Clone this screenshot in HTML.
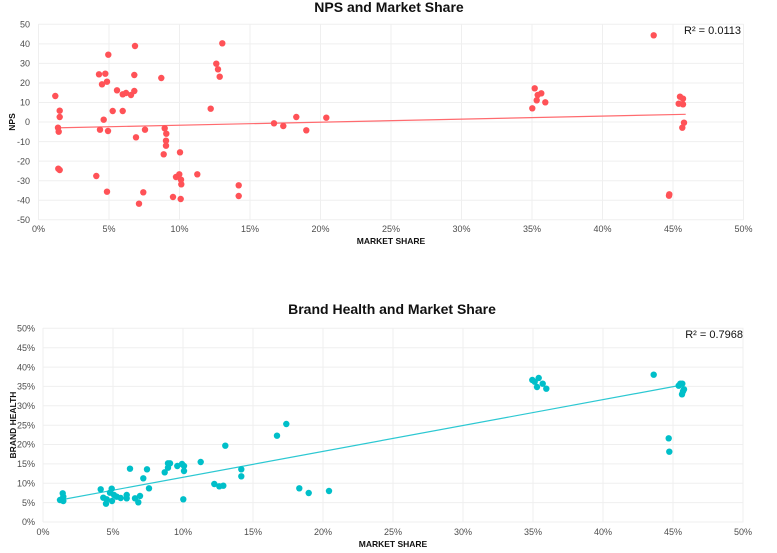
<!DOCTYPE html>
<html><head><meta charset="utf-8"><style>
html,body{margin:0;padding:0;background:#fff;}
svg{display:block;font-family:"Liberation Sans",Arial,sans-serif;}
.g{stroke:#efefef;stroke-width:1;}
.t{font-size:9px;fill:#4d4d4d;}
.ax{font-size:8.5px;font-weight:bold;fill:#111;}
.ti{font-size:14px;font-weight:bold;fill:#111;}
.r{fill:#ff5257;}
.c{fill:#00bfc9;}
</style></head><body>
<svg width="777" height="553" viewBox="0 0 777 553">
<!-- TOP CHART -->
<g>
<line class="g" x1="38.5" x2="743.5" y1="24.3" y2="24.3"/><line class="g" x1="38.5" x2="743.5" y1="43.9" y2="43.9"/><line class="g" x1="38.5" x2="743.5" y1="63.4" y2="63.4"/><line class="g" x1="38.5" x2="743.5" y1="83" y2="83"/><line class="g" x1="38.5" x2="743.5" y1="102.5" y2="102.5"/><line class="g" x1="38.5" x2="743.5" y1="122" y2="122"/><line class="g" x1="38.5" x2="743.5" y1="141.6" y2="141.6"/><line class="g" x1="38.5" x2="743.5" y1="161.1" y2="161.1"/><line class="g" x1="38.5" x2="743.5" y1="180.7" y2="180.7"/><line class="g" x1="38.5" x2="743.5" y1="200.2" y2="200.2"/><line class="g" x1="38.5" x2="743.5" y1="219.7" y2="219.7"/>
<line class="g" y1="24" y2="220" x1="38.5" x2="38.5"/><line class="g" y1="24" y2="220" x1="109" x2="109"/><line class="g" y1="24" y2="220" x1="179.5" x2="179.5"/><line class="g" y1="24" y2="220" x1="250" x2="250"/><line class="g" y1="24" y2="220" x1="320.5" x2="320.5"/><line class="g" y1="24" y2="220" x1="391" x2="391"/><line class="g" y1="24" y2="220" x1="461.5" x2="461.5"/><line class="g" y1="24" y2="220" x1="532" x2="532"/><line class="g" y1="24" y2="220" x1="602.5" x2="602.5"/><line class="g" y1="24" y2="220" x1="673" x2="673"/><line class="g" y1="24" y2="220" x1="743.5" x2="743.5"/>
<g class="t" text-anchor="end">
<text x="30" y="27.5">50</text><text x="30" y="47">40</text><text x="30" y="66.5">30</text><text x="30" y="86">20</text><text x="30" y="105.5">10</text><text x="30" y="125">0</text><text x="30" y="145">-10</text><text x="30" y="164.5">-20</text><text x="30" y="184">-30</text><text x="30" y="203.5">-40</text><text x="30" y="223">-50</text>
</g>
<g class="t" text-anchor="middle">
<text x="38.5" y="232">0%</text><text x="109" y="232">5%</text><text x="179.5" y="232">10%</text><text x="250" y="232">15%</text><text x="320.5" y="232">20%</text><text x="391" y="232">25%</text><text x="461.5" y="232">30%</text><text x="532" y="232">35%</text><text x="602.5" y="232">40%</text><text x="673" y="232">45%</text><text x="743.5" y="232">50%</text>
</g>
<text class="ax" x="391" y="244" text-anchor="middle">MARKET SHARE</text>
<text class="ax" transform="translate(15,122) rotate(-90)" text-anchor="middle">NPS</text>
<text class="ti" x="389" y="12" text-anchor="middle">NPS and Market Share</text>
<text x="741" y="34" text-anchor="end" font-size="11" fill="#111">R² = 0.0113</text>
<line x1="55" y1="127.9" x2="685.7" y2="114.3" stroke="#ff6b6f" stroke-width="1.2"/>
<g class="r">
<circle cx="55.3" cy="96" r="3.2"/><circle cx="59.7" cy="110.7" r="3.2"/><circle cx="59.7" cy="117" r="3.2"/><circle cx="58" cy="127.7" r="3.2"/><circle cx="58.7" cy="131.7" r="3.2"/><circle cx="58.3" cy="168.7" r="3.2"/><circle cx="59.7" cy="170" r="3.2"/><circle cx="96.3" cy="176" r="3.2"/><circle cx="99" cy="74.3" r="3.2"/><circle cx="100" cy="129.7" r="3.2"/><circle cx="102" cy="84.3" r="3.2"/><circle cx="103.7" cy="119.7" r="3.2"/><circle cx="105.3" cy="73.7" r="3.2"/><circle cx="107" cy="81.7" r="3.2"/><circle cx="108.3" cy="54.7" r="3.2"/><circle cx="108" cy="131" r="3.2"/><circle cx="107" cy="191.7" r="3.2"/><circle cx="112.7" cy="111" r="3.2"/><circle cx="117" cy="90.3" r="3.2"/><circle cx="122.7" cy="94.3" r="3.2"/><circle cx="122.7" cy="111" r="3.2"/><circle cx="126" cy="93" r="3.2"/><circle cx="131" cy="95" r="3.2"/><circle cx="134.3" cy="91" r="3.2"/><circle cx="135" cy="46" r="3.2"/><circle cx="134.3" cy="75" r="3.2"/><circle cx="136" cy="137.3" r="3.2"/><circle cx="139" cy="203.7" r="3.2"/><circle cx="143.3" cy="192.3" r="3.2"/><circle cx="145" cy="129.7" r="3.2"/><circle cx="161.3" cy="78" r="3.2"/><circle cx="163.7" cy="154.3" r="3.2"/><circle cx="164.7" cy="128.3" r="3.2"/><circle cx="166.3" cy="133.7" r="3.2"/><circle cx="166" cy="140.7" r="3.2"/><circle cx="166" cy="145.7" r="3.2"/><circle cx="173" cy="197" r="3.2"/><circle cx="176" cy="177" r="3.2"/><circle cx="179.3" cy="174.3" r="3.2"/><circle cx="180" cy="152.3" r="3.2"/><circle cx="181" cy="179.7" r="3.2"/><circle cx="181.3" cy="184.3" r="3.2"/><circle cx="180.7" cy="199" r="3.2"/><circle cx="197.3" cy="174.3" r="3.2"/><circle cx="210.7" cy="108.7" r="3.2"/><circle cx="216.3" cy="63.7" r="3.2"/><circle cx="218" cy="69.3" r="3.2"/><circle cx="219.7" cy="76.7" r="3.2"/><circle cx="222.3" cy="43.3" r="3.2"/><circle cx="238.7" cy="185.3" r="3.2"/><circle cx="238.7" cy="196" r="3.2"/>
<circle cx="274" cy="123.3" r="3.2"/><circle cx="283.3" cy="126" r="3.2"/><circle cx="296.3" cy="117" r="3.2"/><circle cx="306.3" cy="130.3" r="3.2"/><circle cx="326.3" cy="117.7" r="3.2"/>
<circle cx="653.7" cy="35.3" r="3.2"/><circle cx="534.7" cy="88.3" r="3.2"/><circle cx="537.7" cy="95" r="3.2"/><circle cx="541.3" cy="93.3" r="3.2"/><circle cx="536.7" cy="100.3" r="3.2"/><circle cx="545.3" cy="102.3" r="3.2"/><circle cx="532.3" cy="108.3" r="3.2"/><circle cx="680" cy="96.7" r="3.2"/><circle cx="683" cy="98.7" r="3.2"/><circle cx="678.7" cy="103.7" r="3.2"/><circle cx="683" cy="104.3" r="3.2"/><circle cx="684" cy="122.7" r="3.2"/><circle cx="682.3" cy="127.7" r="3.2"/><circle cx="669.3" cy="194.3" r="3.2"/><circle cx="669" cy="195.7" r="3.2"/>
</g>
</g>
<!-- BOTTOM CHART -->
<g>
<line class="g" x1="43" x2="743.5" y1="328.3" y2="328.3"/><line class="g" x1="43" x2="743.5" y1="347.7" y2="347.7"/><line class="g" x1="43" x2="743.5" y1="367.1" y2="367.1"/><line class="g" x1="43" x2="743.5" y1="386.4" y2="386.4"/><line class="g" x1="43" x2="743.5" y1="405.8" y2="405.8"/><line class="g" x1="43" x2="743.5" y1="425.2" y2="425.2"/><line class="g" x1="43" x2="743.5" y1="444.5" y2="444.5"/><line class="g" x1="43" x2="743.5" y1="463.9" y2="463.9"/><line class="g" x1="43" x2="743.5" y1="483.3" y2="483.3"/><line class="g" x1="43" x2="743.5" y1="502.6" y2="502.6"/><line class="g" x1="43" x2="743.5" y1="522" y2="522"/>
<line class="g" y1="328" y2="522" x1="43" x2="43"/><line class="g" y1="328" y2="522" x1="113" x2="113"/><line class="g" y1="328" y2="522" x1="183" x2="183"/><line class="g" y1="328" y2="522" x1="253" x2="253"/><line class="g" y1="328" y2="522" x1="323" x2="323"/><line class="g" y1="328" y2="522" x1="393" x2="393"/><line class="g" y1="328" y2="522" x1="463" x2="463"/><line class="g" y1="328" y2="522" x1="533" x2="533"/><line class="g" y1="328" y2="522" x1="603" x2="603"/><line class="g" y1="328" y2="522" x1="673" x2="673"/><line class="g" y1="328" y2="522" x1="743" x2="743"/>
<g class="t" text-anchor="end">
<text x="35" y="331.5">50%</text><text x="35" y="351">45%</text><text x="35" y="370.3">40%</text><text x="35" y="389.6">35%</text><text x="35" y="409">30%</text><text x="35" y="428.4">25%</text><text x="35" y="447.7">20%</text><text x="35" y="467.1">15%</text><text x="35" y="486.5">10%</text><text x="35" y="505.8">5%</text><text x="35" y="525.2">0%</text>
</g>
<g class="t" text-anchor="middle">
<text x="43" y="535">0%</text><text x="113" y="535">5%</text><text x="183" y="535">10%</text><text x="253" y="535">15%</text><text x="323" y="535">20%</text><text x="393" y="535">25%</text><text x="463" y="535">30%</text><text x="533" y="535">35%</text><text x="603" y="535">40%</text><text x="673" y="535">45%</text><text x="743" y="535">50%</text>
</g>
<text class="ax" x="393" y="547" text-anchor="middle">MARKET SHARE</text>
<text class="ax" transform="translate(16,425) rotate(-90)" text-anchor="middle">BRAND HEALTH</text>
<text class="ti" x="392" y="314" text-anchor="middle">Brand Health and Market Share</text>
<text x="743" y="338" text-anchor="end" font-size="11" fill="#111">R² = 0.7968</text>
<line x1="60" y1="500" x2="676.7" y2="386" stroke="#2cc8d2" stroke-width="1.2"/>
<g class="c">
<circle cx="60" cy="500" r="3.2"/><circle cx="62.7" cy="493.3" r="3.2"/><circle cx="63.3" cy="496.7" r="3.2"/><circle cx="63.3" cy="501" r="3.2"/><circle cx="61.7" cy="500" r="3.2"/><circle cx="100.7" cy="489.3" r="3.2"/><circle cx="103.3" cy="497.7" r="3.2"/><circle cx="106" cy="503.7" r="3.2"/><circle cx="106.7" cy="499.3" r="3.2"/><circle cx="110" cy="492.7" r="3.2"/><circle cx="111.7" cy="488.7" r="3.2"/><circle cx="112" cy="501" r="3.2"/><circle cx="114" cy="495" r="3.2"/><circle cx="116.7" cy="496.7" r="3.2"/><circle cx="120.7" cy="498" r="3.2"/><circle cx="126.7" cy="495" r="3.2"/><circle cx="126.7" cy="498.3" r="3.2"/><circle cx="130" cy="468.7" r="3.2"/><circle cx="135" cy="498.3" r="3.2"/><circle cx="138.3" cy="502.3" r="3.2"/><circle cx="140" cy="496" r="3.2"/><circle cx="143.3" cy="478.3" r="3.2"/><circle cx="147" cy="469.3" r="3.2"/><circle cx="149" cy="488.3" r="3.2"/><circle cx="164.7" cy="472.3" r="3.2"/><circle cx="168" cy="467.7" r="3.2"/><circle cx="168" cy="463.3" r="3.2"/><circle cx="170" cy="463.3" r="3.2"/><circle cx="177.3" cy="466" r="3.2"/><circle cx="182" cy="464" r="3.2"/><circle cx="184" cy="466" r="3.2"/><circle cx="184" cy="471" r="3.2"/><circle cx="183.3" cy="499.3" r="3.2"/><circle cx="200.7" cy="462" r="3.2"/><circle cx="214.3" cy="484" r="3.2"/><circle cx="219.3" cy="486.3" r="3.2"/><circle cx="223.3" cy="485.7" r="3.2"/><circle cx="225.3" cy="445.7" r="3.2"/><circle cx="241.3" cy="469.3" r="3.2"/><circle cx="241.3" cy="476.3" r="3.2"/>
<circle cx="277" cy="435.7" r="3.2"/><circle cx="286.3" cy="424" r="3.2"/><circle cx="299.3" cy="488.3" r="3.2"/><circle cx="308.7" cy="493" r="3.2"/><circle cx="329" cy="491" r="3.2"/>
<circle cx="532.3" cy="380" r="3.2"/><circle cx="534.7" cy="381.7" r="3.2"/><circle cx="538.7" cy="378" r="3.2"/><circle cx="537" cy="387" r="3.2"/><circle cx="542.7" cy="383.7" r="3.2"/><circle cx="546.3" cy="388.7" r="3.2"/><circle cx="653.7" cy="374.7" r="3.2"/><circle cx="678.7" cy="385.7" r="3.2"/><circle cx="680.3" cy="383.7" r="3.2"/><circle cx="682.3" cy="383.7" r="3.2"/><circle cx="684" cy="389.3" r="3.2"/><circle cx="683" cy="391.3" r="3.2"/><circle cx="682" cy="394.3" r="3.2"/><circle cx="668.7" cy="438.3" r="3.2"/><circle cx="669.3" cy="451.7" r="3.2"/>
</g>
</g>
</svg>
</body></html>
